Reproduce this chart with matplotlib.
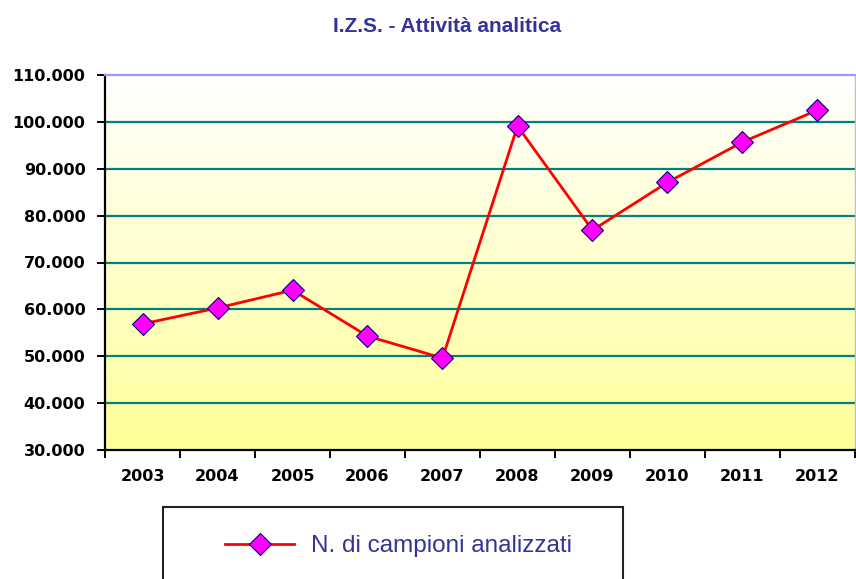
import numpy as np
import matplotlib
matplotlib.use("Agg")
import matplotlib.pyplot as plt
from matplotlib.patches import Rectangle
from matplotlib.colors import LinearSegmentedColormap
from matplotlib.ticker import FuncFormatter, FixedLocator

years = ["2003", "2004", "2005", "2006", "2007", "2008", "2009", "2010", "2011", "2012"]
campioni = [56900, 60300, 64100, 54300, 49600, 99100, 76900, 87100, 95700, 102500]
title = "I.Z.S. - Attività analitica"
series_label = "N. di campioni analizzati"

fig = plt.figure(figsize=(8.56, 5.79), dpi=100)
ax = fig.add_axes([105 / 856, 1 - 450 / 579, 750 / 856, 375 / 579])

x = np.arange(len(years))
ymin, ymax = 30000, 110000

# gradient background: pale yellow at the bottom fading to white at the top
grad = np.linspace(1, 0, 256).reshape(-1, 1)
cmap = LinearSegmentedColormap.from_list("bg", ["#FFFFFF", "#FFFF99"])
ax.imshow(grad, cmap=cmap, aspect="auto", extent=(-0.5, len(years) - 0.5, ymin, ymax),
          origin="lower", zorder=0)
ax.set_xlim(-0.5, len(years) - 0.5)
ax.set_ylim(ymin, ymax)

yticks = np.arange(ymin, ymax + 1, 10000)
for yv in yticks[1:-1]:
    ax.axhline(yv, color="#008080", lw=1.6, zorder=1)

ax.plot(x, campioni, color="#FF0000", lw=2.0, marker="D", markersize=11,
        markerfacecolor="#FF00FF", markeredgecolor="#000080", markeredgewidth=0.8,
        zorder=3, label=series_label)

ax.spines["top"].set_color("#9999FF")
ax.spines["top"].set_linewidth(1.6)
ax.spines["right"].set_color("#C0C0C0")
ax.spines["right"].set_linewidth(1.0)
ax.spines["left"].set_color("black")
ax.spines["left"].set_linewidth(1.6)
ax.spines["bottom"].set_color("black")
ax.spines["bottom"].set_linewidth(1.6)

ax.set_yticks(yticks)
ax.yaxis.set_major_formatter(FuncFormatter(lambda v, p: f"{int(v):,}".replace(",", ".")))
ax.tick_params(axis="y", direction="out", length=6, width=1.4, pad=8, labelsize=11.5)

ax.set_xticks(x)
ax.set_xticklabels(years)
ax.xaxis.set_minor_locator(FixedLocator(np.arange(-0.5, len(years), 1.0)))
ax.tick_params(axis="x", which="major", length=0, pad=14, labelsize=11.5)
ax.tick_params(axis="x", which="minor", direction="out", length=6, width=1.4)

for lbl in ax.get_xticklabels() + ax.get_yticklabels():
    lbl.set_fontfamily("DejaVu Sans")
    lbl.set_fontweight("bold")
    lbl.set_color("black")

fig.text(447 / 856, 1 - 27 / 579, title, ha="center", va="center",
         fontsize=15, fontweight="bold", color="#333399", family="Liberation Sans")

# legend box running off the bottom edge
box = Rectangle((163 / 856, -0.05), 460 / 856, 0.05 + 1 - 507 / 579,
                transform=fig.transFigure, fill=False, edgecolor="#222222", lw=1.5,
                clip_on=False)
fig.patches.append(box)

leg = fig.legend(loc="center left", bbox_to_anchor=(225 / 856, 1 - 546 / 579),
                 frameon=False, handlelength=2.85, handletextpad=0.7, borderaxespad=0,
                 borderpad=0, prop={"family": "Liberation Sans", "size": 17.5})
for t in leg.get_texts():
    t.set_color("#333399")

fig.savefig("out.png", dpi=100)
